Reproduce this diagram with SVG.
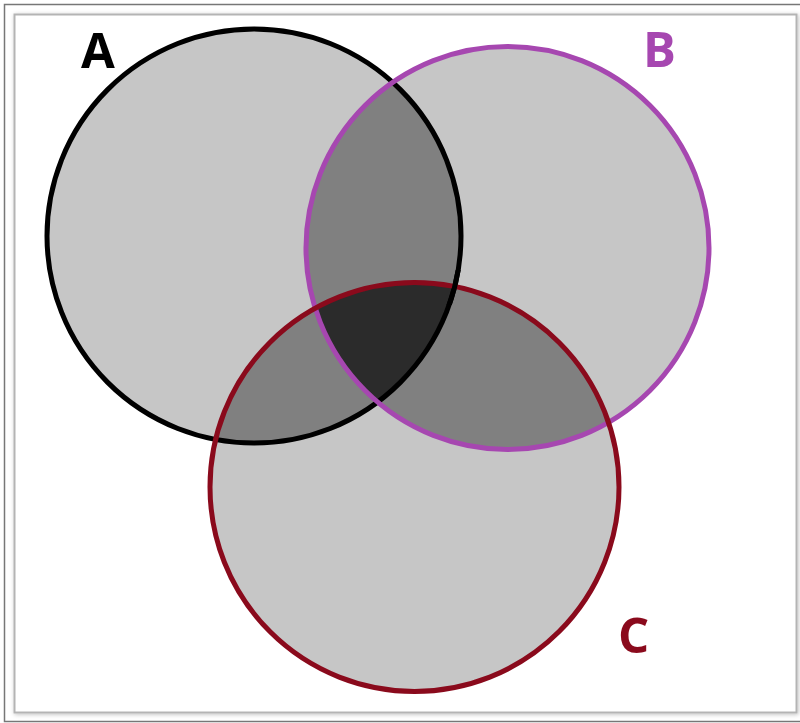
<svg xmlns="http://www.w3.org/2000/svg" width="800" height="723" viewBox="0 0 800 723">
  <style>
    .lbl { font-family: "Open Sans", "Liberation Sans", sans-serif; font-weight: 700; font-size: 49px; }
    .ring { fill: none; stroke-width: 5; }
  </style>
  <defs>
    <clipPath id="clipA"><circle cx="254" cy="236" r="207"/></clipPath>
    <clipPath id="clipB"><circle cx="507.5" cy="248" r="201.5"/></clipPath>
    <clipPath id="clipAB" clip-path="url(#clipA)"><circle cx="507.5" cy="248" r="201.5"/></clipPath>
    <clipPath id="clipX"><rect x="440" y="270" width="30" height="35"/></clipPath>
    <filter id="sh" x="-5%" y="-5%" width="110%" height="110%">
      <feDropShadow dx="1" dy="1" stdDeviation="2" flood-color="#000" flood-opacity="0.25"/>
    </filter>
  </defs>
  <rect width="800" height="723" fill="#ffffff"/>
  <rect x="4.5" y="4.5" width="800" height="717" fill="none" stroke="#777777" stroke-width="1.5"/>
  <rect x="14.5" y="14.5" width="782" height="698" fill="#ffffff" stroke="#b4b4b4" stroke-width="2" filter="url(#sh)"/>

  <g id="fills">
    <circle cx="254" cy="236" r="207" fill="#c6c6c6"/>
    <circle cx="507.5" cy="248" r="201.5" fill="#c6c6c6"/>
    <circle cx="414.5" cy="487" r="204.5" fill="#c6c6c6"/>
    <circle cx="507.5" cy="248" r="201.5" fill="#808080" clip-path="url(#clipA)"/>
    <circle cx="414.5" cy="487" r="204.5" fill="#808080" clip-path="url(#clipA)"/>
    <circle cx="414.5" cy="487" r="204.5" fill="#808080" clip-path="url(#clipB)"/>
    <circle cx="414.5" cy="487" r="204.5" fill="#2b2b2b" clip-path="url(#clipAB)"/>
  </g>

  <g id="A">
    <circle class="ring" cx="254" cy="236" r="207" stroke="#000000"/>
    <text class="lbl" x="81" y="68" fill="#000000">A</text>
  </g>
  <g id="B">
    <circle class="ring" cx="507.5" cy="248" r="201.5" stroke="#a647b0"/>
    <text class="lbl" x="643" y="67" fill="#a647b0">B</text>
  </g>
  <g id="C">
    <circle class="ring" cx="414.5" cy="487" r="204.5" stroke="#8a0a1c"/>
    <text class="lbl" x="618" y="653" fill="#8a0a1c">C</text>
  </g>
  <circle class="ring" cx="254" cy="236" r="207" stroke="#000000" clip-path="url(#clipX)"/>
  <g id="connectors"></g>
</svg>
